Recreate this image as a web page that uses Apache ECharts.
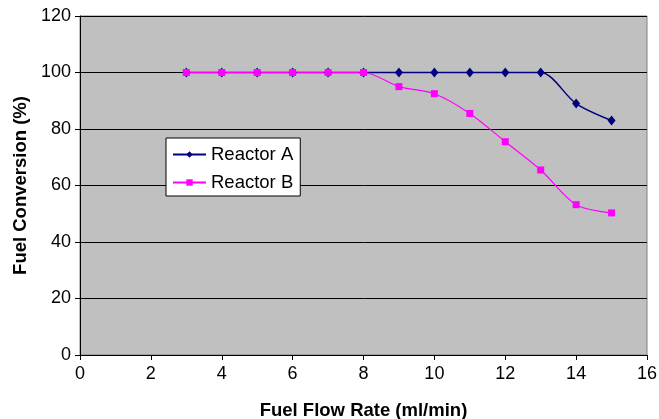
<!DOCTYPE html>
<html>
<head>
<meta charset="utf-8">
<script src="https://cdn.jsdelivr.net/npm/echarts@6/dist/echarts.min.js"></script>
<style>
html, body { margin: 0; padding: 0; background: #fff; }
#chart { width: 659px; height: 419px; }
</style>
</head>
<body>
<div id="chart"></div>
<script type="text/javascript">
// values
var flowRate = [3, 4, 5, 6, 7, 8, 9, 10, 11, 12, 13, 14, 15];
var reactorA = [100, 100, 100, 100, 100, 100, 100, 100, 100, 100, 100, 89, 83];
var reactorB = [100, 100, 100, 100, 100, 100, 95, 92.5, 85.5, 75.5, 65.5, 53.2, 50.3];

var pairs = function(xs, ys) {
    var out = [];
    for (var i = 0; i < xs.length; i++) {
        out.push([xs[i], ys[i]]);
    }
    return out;
};

var font = 'Liberation Sans, Arial, sans-serif';

var option = {
    animation: false,
    backgroundColor: '#ffffff',
    textStyle: { fontFamily: font },
    grid: {
        left: 80,
        right: 12,
        top: 16,
        bottom: 64,
        outerBoundsMode: 'none',
        containLabel: false,
        show: true,
        backgroundColor: '#c0c0c0',
        borderColor: '#808080',
        borderWidth: 1
    },
    legend: {
        left: 166,
        top: 138,
        orient: 'vertical',
        backgroundColor: '#ffffff',
        borderColor: '#000000',
        borderWidth: 1,
        padding: [7, 7, 4, 6],
        itemGap: 9,
        itemWidth: 33,
        itemHeight: 8,
        textStyle: { fontFamily: font, fontSize: 18.5, lineHeight: 18, color: '#000' },
        data: ['Reactor A', 'Reactor B']
    },
    xAxis: {
        type: 'value',
        min: 0,
        max: 16,
        interval: 2,
        name: 'Fuel Flow Rate (ml/min)',
        nameLocation: 'middle',
        nameGap: 46,
        nameTextStyle: { fontFamily: font, fontSize: 18.5, fontWeight: 'bold', color: '#000' },
        axisLine: { lineStyle: { color: '#000', width: 1 } },
        axisTick: { length: 5, lineStyle: { color: '#000' } },
        axisLabel: { fontFamily: font, fontSize: 18, color: '#000', margin: 10 },
        splitLine: { show: false }
    },
    yAxis: {
        type: 'value',
        min: 0,
        max: 120,
        interval: 20,
        name: 'Fuel Conversion (%)',
        nameLocation: 'middle',
        nameGap: 50,
        nameTextStyle: { fontFamily: font, fontSize: 18.5, fontWeight: 'bold', color: '#000' },
        axisLine: { show: true, lineStyle: { color: '#000', width: 1 } },
        axisTick: { show: true, length: 5, lineStyle: { color: '#000' } },
        axisLabel: { fontFamily: font, fontSize: 18, color: '#000', margin: 9 },
        splitLine: { show: true, lineStyle: { color: '#000', width: 1 } }
    },
    series: [{
            name: 'Reactor A',
            type: 'line',
            smooth: 0.3,
            symbol: 'diamond',
            symbolSize: [8, 10],
            itemStyle: { color: '#000080' },
            lineStyle: { color: '#000080', width: 1.5 },
            data: pairs(flowRate, reactorA)
        },
        {
            name: 'Reactor B',
            type: 'line',
            smooth: 0.3,
            symbol: 'rect',
            symbolSize: 7,
            itemStyle: { color: '#ff00ff' },
            lineStyle: { color: '#ff00ff', width: 1.2 },
            data: pairs(flowRate, reactorB)
        }
    ]
};

var chart = echarts.init(document.getElementById('chart'));
chart.setOption(option);
</script>
</body>
</html>
